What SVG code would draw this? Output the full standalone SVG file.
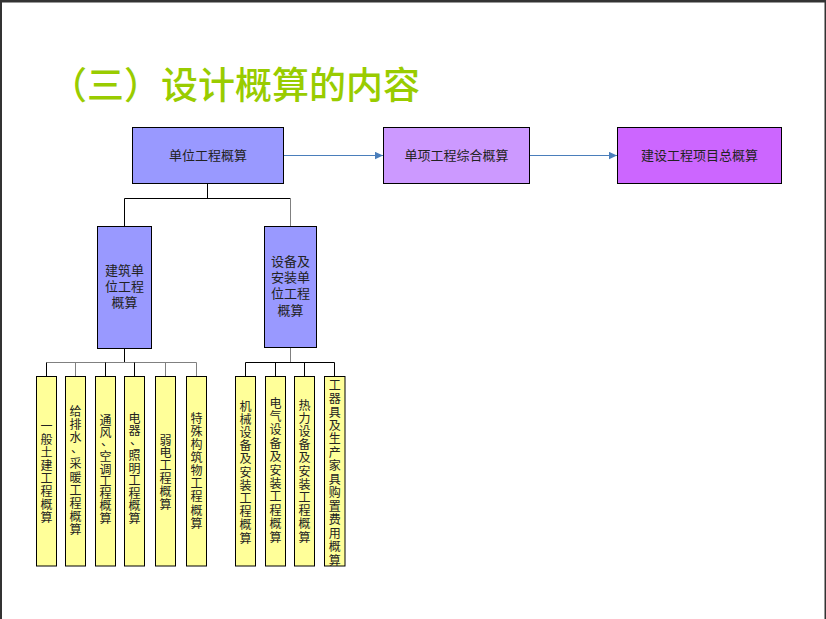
<svg xmlns="http://www.w3.org/2000/svg" width="826" height="619" viewBox="0 0 826 619">
<style>
  .t{font-family:"Noto Sans CJK SC","Noto Sans",sans-serif;fill:#222;font-size:13px;text-anchor:middle}
  .v{font-family:"Noto Sans CJK SC","Noto Sans",sans-serif;fill:#222;font-size:12px;text-anchor:middle}
  .box{stroke:#000;stroke-width:1}
  .blue{fill:#9999FF}
  .lil{fill:#CC99FF}
  .mag{fill:#CC66FF}
  .yel{fill:#FFFF99}
  .ln{stroke:#000;stroke-width:1;fill:none}
  .lg{stroke:#808080;stroke-width:1;fill:none}
  .arr{stroke:#4A7EBB;stroke-width:1.2;fill:none}
</style>
<defs>
  <marker id="ah" markerWidth="8" markerHeight="8" viewBox="0 0 8 8" refX="8" refY="4" orient="auto" markerUnits="userSpaceOnUse">
    <path d="M0,0.3 L8,4 L0,7.7 Z" fill="#4A7EBB"/>
  </marker>
</defs>
<rect x="0" y="0" width="826" height="619" fill="#fff"/>
<g id="frame">
  <rect x="0" y="0" width="826" height="2.5" fill="#333"/>
  <rect x="0" y="0" width="2" height="619" fill="#333"/>
  <rect x="824.5" y="0" width="1.5" height="619" fill="#333"/>
</g>
<text id="title" x="50" y="99" font-family="Noto Sans CJK SC, sans-serif" font-size="37" font-weight="500" fill="#99CC00">（三）设计概算的内容</text>

<g id="connectors">
  <line class="arr" x1="283.5" y1="155.5" x2="383" y2="155.5" marker-end="url(#ah)"/>
  <line class="arr" x1="529.5" y1="155.5" x2="617" y2="155.5" marker-end="url(#ah)"/>
  <path class="ln" d="M207.5,183.5 V198.5 M124.5,198.5 H290.5 M124.5,198.5 V226.5"/>
  <path class="lg" d="M290.5,198.5 V226.5"/>
  <path class="ln" d="M124.5,348.5 V362.5"/>
  <path class="lg" d="M46.5,362.5 H196.5 M75.5,362.5 V376.5 M165.5,362.5 V376.5 M196.5,362.5 V376.5"/>
  <path class="ln" d="M46.5,362.5 V376.5 M105.5,362.5 V376.5 M134.5,362.5 V376.5"/>
  <path class="lg" d="M290.5,347.5 V362.5"/>
  <path class="ln" d="M245.5,362.5 H334.5 M245.5,362.5 V376.5 M275.5,362.5 V376.5 M304.5,362.5 V376.5 M334.5,362.5 V376.5"/>
</g>

<g id="n-danwei">
  <rect class="box blue" x="132.5" y="127.5" width="151" height="56"/>
  <text class="t" x="208" y="160">单位工程概算</text>
</g>
<g id="n-danxiang">
  <rect class="box lil" x="383.5" y="127.5" width="146" height="56"/>
  <text class="t" x="456.5" y="160">单项工程综合概算</text>
</g>
<g id="n-jianshe">
  <rect class="box mag" x="617.5" y="127.5" width="164" height="56"/>
  <text class="t" x="699.5" y="160">建设工程项目总概算</text>
</g>
<g id="n-jianzhu">
  <rect class="box blue" x="97.5" y="226.5" width="54" height="122"/>
  <text class="t" x="124.5" y="275"><tspan x="124.5" y="275">建筑单</tspan><tspan x="124.5" y="291">位工程</tspan><tspan x="124.5" y="307">概算</tspan></text>
</g>
<g id="n-shebei">
  <rect class="box blue" x="264.5" y="226.5" width="52" height="121"/>
  <text class="t" x="290.5" y="266"><tspan x="290.5" y="266">设备及</tspan><tspan x="290.5" y="282.2">安装单</tspan><tspan x="290.5" y="298.4">位工程</tspan><tspan x="290.5" y="314.6">概算</tspan></text>
</g>

<g id="n-c1">
  <rect class="box yel" x="36.5" y="376.5" width="20" height="189.5"/>
  <text class="v"><tspan x="46.5" y="430.6">一</tspan><tspan x="46.5" y="443.6">般</tspan><tspan x="46.5" y="456.6">土</tspan><tspan x="46.5" y="469.6">建</tspan><tspan x="46.5" y="482.6">工</tspan><tspan x="46.5" y="495.6">程</tspan><tspan x="46.5" y="508.6">概</tspan><tspan x="46.5" y="521.6">算</tspan></text>
</g>
<g id="n-c2">
  <rect class="box yel" x="65.5" y="376.5" width="20" height="189.5"/>
  <text class="v"><tspan x="75.5" y="416.3">给</tspan><tspan x="75.5" y="429.3">排</tspan><tspan x="75.5" y="442.4">水</tspan><tspan x="77" y="453.4">、</tspan><tspan x="75.5" y="468.4">采</tspan><tspan x="75.5" y="481.5">暖</tspan><tspan x="75.5" y="494.5">工</tspan><tspan x="75.5" y="507.5">程</tspan><tspan x="75.5" y="520.6">概</tspan><tspan x="75.5" y="533.6">算</tspan></text>
</g>
<g id="n-c3">
  <rect class="box yel" x="95.5" y="376.5" width="20" height="189.5"/>
  <text class="v"><tspan x="105.5" y="424.6">通</tspan><tspan x="105.5" y="436.9">风</tspan><tspan x="107" y="446.1">、</tspan><tspan x="105.5" y="461.4">空</tspan><tspan x="105.5" y="473.6">调</tspan><tspan x="105.5" y="485.9">工</tspan><tspan x="105.5" y="498.1">程</tspan><tspan x="105.5" y="510.4">概</tspan><tspan x="105.5" y="522.6">算</tspan></text>
</g>
<g id="n-c4">
  <rect class="box yel" x="124.5" y="376.5" width="20" height="189.5"/>
  <text class="v"><tspan x="134.5" y="422.6">电</tspan><tspan x="134.5" y="435.1">器</tspan><tspan x="136" y="444.6">、</tspan><tspan x="134.5" y="460.1">照</tspan><tspan x="134.5" y="472.6">明</tspan><tspan x="134.5" y="485.1">工</tspan><tspan x="134.5" y="497.6">程</tspan><tspan x="134.5" y="510.1">概</tspan><tspan x="134.5" y="522.6">算</tspan></text>
</g>
<g id="n-c5">
  <rect class="box yel" x="155.5" y="376.5" width="20" height="189.5"/>
  <text class="v"><tspan x="165.5" y="444.6">弱</tspan><tspan x="165.5" y="457.4">电</tspan><tspan x="165.5" y="470.2">工</tspan><tspan x="165.5" y="483">程</tspan><tspan x="165.5" y="495.8">概</tspan><tspan x="165.5" y="508.6">算</tspan></text>
</g>
<g id="n-c6">
  <rect class="box yel" x="186.5" y="376.5" width="20" height="189.5"/>
  <text class="v"><tspan x="196.5" y="422.6">特</tspan><tspan x="196.5" y="435.7">殊</tspan><tspan x="196.5" y="448.9">构</tspan><tspan x="196.5" y="462">筑</tspan><tspan x="196.5" y="475.1">物</tspan><tspan x="196.5" y="488.2">工</tspan><tspan x="196.5" y="501.4">程</tspan><tspan x="196.5" y="514.5">概</tspan><tspan x="196.5" y="527.6">算</tspan></text>
</g>
<g id="n-c7">
  <rect class="box yel" x="235.5" y="376.5" width="20" height="189.5"/>
  <text class="v"><tspan x="245.5" y="410.6">机</tspan><tspan x="245.5" y="423.8">械</tspan><tspan x="245.5" y="437">设</tspan><tspan x="245.5" y="450.2">备</tspan><tspan x="245.5" y="463.4">及</tspan><tspan x="245.5" y="476.6">安</tspan><tspan x="245.5" y="489.8">装</tspan><tspan x="245.5" y="503">工</tspan><tspan x="245.5" y="516.2">程</tspan><tspan x="245.5" y="529.4">概</tspan><tspan x="245.5" y="542.6">算</tspan></text>
</g>
<g id="n-c8">
  <rect class="box yel" x="265.5" y="376.5" width="20" height="189.5"/>
  <text class="v"><tspan x="275.5" y="407.6">电</tspan><tspan x="275.5" y="421">气</tspan><tspan x="275.5" y="434.4">设</tspan><tspan x="275.5" y="447.8">备</tspan><tspan x="275.5" y="461.2">及</tspan><tspan x="275.5" y="474.6">安</tspan><tspan x="275.5" y="488">装</tspan><tspan x="275.5" y="501.4">工</tspan><tspan x="275.5" y="514.8">程</tspan><tspan x="275.5" y="528.2">概</tspan><tspan x="275.5" y="541.6">算</tspan></text>
</g>
<g id="n-c9">
  <rect class="box yel" x="294.5" y="376.5" width="20" height="189.5"/>
  <text class="v"><tspan x="304.5" y="409.6">热</tspan><tspan x="304.5" y="422.8">力</tspan><tspan x="304.5" y="436">设</tspan><tspan x="304.5" y="449.2">备</tspan><tspan x="304.5" y="462.4">及</tspan><tspan x="304.5" y="475.6">安</tspan><tspan x="304.5" y="488.8">装</tspan><tspan x="304.5" y="502">工</tspan><tspan x="304.5" y="515.2">程</tspan><tspan x="304.5" y="528.4">概</tspan><tspan x="304.5" y="541.6">算</tspan></text>
</g>
<g id="n-c10">
  <rect class="box yel" x="324.5" y="376.5" width="20.5" height="189.5"/>
  <text class="v"><tspan x="334.75" y="389.6">工</tspan><tspan x="334.75" y="403.1">器</tspan><tspan x="334.75" y="416.5">具</tspan><tspan x="334.75" y="430">及</tspan><tspan x="334.75" y="443.4">生</tspan><tspan x="334.75" y="456.9">产</tspan><tspan x="334.75" y="470.4">家</tspan><tspan x="334.75" y="483.8">具</tspan><tspan x="334.75" y="497.3">购</tspan><tspan x="334.75" y="510.7">置</tspan><tspan x="334.75" y="524.2">费</tspan><tspan x="334.75" y="537.7">用</tspan><tspan x="334.75" y="551.1">概</tspan><tspan x="334.75" y="564.6">算</tspan></text>
</g>
</svg>
